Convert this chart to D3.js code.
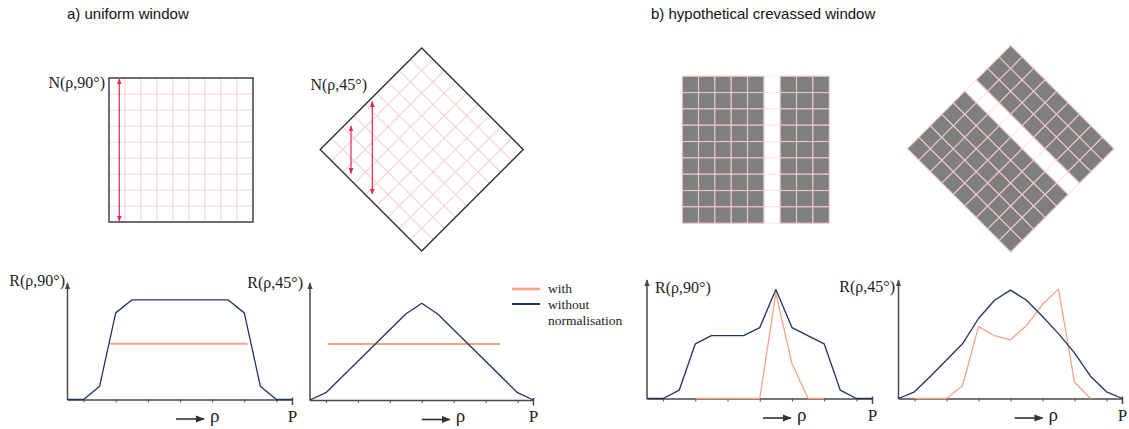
<!DOCTYPE html>
<html>
<head>
<meta charset="utf-8">
<script src="https://cdn.jsdelivr.net/npm/d3@7"></script>
<style>
body { margin: 0; background: #fff; }
</style>
</head>
<body>
<svg id="fig" width="1129" height="429"></svg>
<script>
// ---- data ----
var rhoTicks = [1, 3, 5, 7, 9, 11, 13];
var rhoMax = 14;
var gridCells = 9;
var crevasseMask = [1, 1, 1, 1, 1, 0, 1, 1, 1];   // 0 = open crevasse column

// a) uniform window, R(rho,90)
var u90X = [0, 1, 2, 3, 4, 10, 11, 12, 13, 14];
var u90Without = [0, 0, 0.134, 0.87, 1, 1, 0.87, 0.134, 0, 0];
var u90WithX = [2.65, 11.2];
var u90With = [0.56, 0.56];

// a) uniform window, R(rho,45)
var u45X = [0, 1, 6, 7, 8, 13, 14];
var u45Without = [0, 0.073, 0.86, 0.967, 0.86, 0.073, 0];
var u45WithX = [1.1, 11.9];
var u45With = [0.56, 0.56];

// b) crevassed window, R(rho,90)
var c90X = [0, 1, 2, 3, 4, 6, 7, 8, 9, 11, 12, 13, 14];
var c90Without = [0, 0, 0.082, 0.54, 0.62, 0.62, 0.70, 1.076, 0.70, 0.54, 0.082, 0, 0];
var c90WithX = [3, 7, 8, 9, 10, 11];
var c90With = [0, 0, 1.04, 0.345, 0, 0];

// b) crevassed window, R(rho,45)
var c45X = [0, 1, 2, 3, 4, 5, 6, 7, 8, 9, 10, 11, 12, 13, 14];
var c45Without = [0, 0.066, 0.22, 0.38, 0.54, 0.79, 0.97, 1.07, 0.97, 0.81, 0.64, 0.45, 0.22, 0.066, 0];
var c45WithX = [1, 3, 4, 5, 6, 7, 8, 9, 10, 11, 12];
var c45With = [0, 0, 0.126, 0.71, 0.62, 0.58, 0.72, 0.93, 1.08, 0.16, 0];

var legendItems = ["with", "without"];

// ---- styles ----
var BLUE = "#1f3461", ORANGE = "#f6a383", RED = "#e8255a", PINK = "#fbd3d3";
var GREYCELL = "#7f7f7f", AXIS = "#4a4a4a";
var SERIF = "'Liberation Serif', 'DejaVu Serif', serif";
var SANS = "'Liberation Sans', Arial, sans-serif";

var svg = d3.select("#fig");
var defs = svg.append("defs");

function marker(id, color, size) {
    defs.append("marker")
        .attr("id", id)
        .attr("viewBox", "0 0 10 10")
        .attr("refX", 9).attr("refY", 5)
        .attr("markerUnits", "userSpaceOnUse")
        .attr("markerWidth", size).attr("markerHeight", size)
        .attr("orient", "auto-start-reverse")
        .append("path")
        .attr("d", "M0,1 L10,5 L0,9 z")
        .attr("fill", color);
}
marker("arRed", RED, 6);
marker("arGrey", AXIS, 7);
marker("arDark", "#333", 9);

// titles
svg.append("text").attr("x", 67).attr("y", 19)
    .style("font-family", SANS).style("font-size", "15px").attr("fill", "#111")
    .text("a) uniform window");
svg.append("text").attr("x", 651).attr("y", 19)
    .style("font-family", SANS).style("font-size", "15px").attr("fill", "#111")
    .text("b) hypothetical crevassed window");

// ---- windows ----
function uniformWindow(g, side) {
    var s = d3.scaleLinear().domain([0, gridCells]).range([-side / 2, side / 2]);
    var inner = d3.range(1, gridCells);
    g.selectAll("line.v").data(inner).enter().append("line")
        .attr("x1", s).attr("x2", s).attr("y1", s(0)).attr("y2", s(gridCells))
        .attr("stroke", PINK).attr("stroke-width", 1.2);
    g.selectAll("line.h").data(inner).enter().append("line")
        .attr("y1", s).attr("y2", s).attr("x1", s(0)).attr("x2", s(gridCells))
        .attr("stroke", PINK).attr("stroke-width", 1.2);
    g.append("rect").attr("x", s(0)).attr("y", s(0))
        .attr("width", side).attr("height", side)
        .attr("fill", "none").attr("stroke", "#333").attr("stroke-width", 1.4);
}

function crevassedWindow(g, side) {
    var s = d3.scaleLinear().domain([0, gridCells]).range([-side / 2, side / 2]);
    var cells = [];
    crevasseMask.forEach(function (m, c) {
        d3.range(gridCells).forEach(function (r) { cells.push({c: c, r: r, m: m}); });
    });
    var cw = side / gridCells;
    g.selectAll("rect.gap").data(cells.filter(function (d) { return !d.m; })).enter().append("rect")
        .attr("x", function (d) { return s(d.c); }).attr("y", function (d) { return s(d.r); })
        .attr("width", cw).attr("height", cw)
        .attr("fill", "#fff").attr("stroke", "#fde6e6").attr("stroke-width", 1);
    g.selectAll("rect.cell").data(cells.filter(function (d) { return d.m; })).enter().append("rect")
        .attr("x", function (d) { return s(d.c); }).attr("y", function (d) { return s(d.r); })
        .attr("width", cw).attr("height", cw)
        .attr("fill", GREYCELL).attr("stroke", "#f2c6c6").attr("stroke-width", 1.1);
}

function dblArrow(x, y0, y1) {
    svg.append("line").attr("x1", x).attr("x2", x).attr("y1", y0).attr("y2", y1)
        .attr("stroke", RED).attr("stroke-width", 1.2)
        .attr("marker-start", "url(#arRed)").attr("marker-end", "url(#arRed)");
}

function serifLabel(x, y, txt, anchor, size) {
    return svg.append("text").attr("x", x).attr("y", y)
        .attr("text-anchor", anchor || "start")
        .style("font-family", SERIF).style("font-size", (size || 16) + "px")
        .attr("fill", "#222").text(txt);
}

// a) square
uniformWindow(svg.append("g").attr("transform", "translate(181,150)"), 144);
dblArrow(119.3, 79, 221);
serifLabel(105, 88, "N(\u03c1,90\u00b0)", "end");

// a) diamond
uniformWindow(svg.append("g").attr("transform", "translate(421.7,149.5) rotate(45)"), 143.5);
dblArrow(351, 126, 173.5);
dblArrow(372.3, 101.5, 194);
serifLabel(367, 90, "N(\u03c1,45\u00b0)", "end");

// b) square and diamond
crevassedWindow(svg.append("g").attr("transform", "translate(755.7,149.7)"), 147);
crevassedWindow(svg.append("g").attr("transform", "translate(1010.7,148.7) rotate(-45)"), 146);

// ---- profile charts ----
function profile(p) {
    var x = d3.scaleLinear().domain([0, rhoMax]).range([p.x0, p.x1]);
    var y = d3.scaleLinear().domain([0, 1.17]).range([p.base, p.top]);
    var line = d3.line().x(function (d) { return x(d[0]); }).y(function (d) { return y(d[1]); });
    var g = svg.append("g");

    var ax = g.append("g").attr("transform", "translate(0," + p.base + ")")
        .call(d3.axisBottom(x).tickValues(rhoTicks).tickSize(3).tickSizeOuter(0).tickFormat(""));
    ax.select(".domain").attr("stroke", AXIS).attr("stroke-width", 1.6);
    ax.selectAll(".tick line").attr("stroke", AXIS).attr("stroke-width", 1);
    g.append("line").attr("x1", x(rhoMax)).attr("x2", x(rhoMax))
        .attr("y1", p.base - 2).attr("y2", p.base + 5.5)
        .attr("stroke", AXIS).attr("stroke-width", 1.5);
    g.append("line").attr("x1", x(0)).attr("x2", x(0))
        .attr("y1", p.base + 0.8).attr("y2", p.top)
        .attr("stroke", AXIS).attr("stroke-width", 1.5)
        .attr("marker-end", "url(#arGrey)");

    g.append("path").datum(d3.zip(p.withX, p.with))
        .attr("d", line).attr("fill", "none")
        .attr("stroke", ORANGE).attr("stroke-width", p.flat ? 2 : 1.3)
        .attr("stroke-linejoin", "round");
    g.append("path").datum(d3.zip(p.withoutX, p.without))
        .attr("d", line).attr("fill", "none")
        .attr("stroke", BLUE).attr("stroke-width", 1.3)
        .attr("stroke-linejoin", "round");

    serifLabel(x(rhoMax), p.base + 22, "P", "middle", 17);
    g.append("line").attr("x1", x(p.rhoAt)).attr("x2", x(p.rhoAt) + 28)
        .attr("y1", p.base + 19.5).attr("y2", p.base + 19.5)
        .attr("stroke", "#333").attr("stroke-width", 1.6)
        .attr("marker-end", "url(#arDark)");
    serifLabel(x(p.rhoAt) + 34, p.base + 22, "\u03c1", "start", 19);
    serifLabel(p.lx, p.ly, p.label, p.lanchor);
}

profile({x0: 67.5, x1: 292.5, base: 399.5, top: 283, withoutX: u90X, without: u90Without,
    withX: u90WithX, with: u90With, flat: true, rhoAt: 6.75,
    label: "R(\u03c1,90\u00b0)", lx: 65, ly: 286, lanchor: "end"});
profile({x0: 310, x1: 533.5, base: 400, top: 283, withoutX: u45X, without: u45Without,
    withX: u45WithX, with: u45With, flat: true, rhoAt: 7,
    label: "R(\u03c1,45\u00b0)", lx: 303, ly: 288, lanchor: "end"});
profile({x0: 647, x1: 872.5, base: 398.5, top: 280, withoutX: c90X, without: c90Without,
    withX: c90WithX, with: c90With, flat: false, rhoAt: 7.2,
    label: "R(\u03c1,90\u00b0)", lx: 655, ly: 293, lanchor: "start"});
profile({x0: 898.5, x1: 1122.5, base: 398.5, top: 280, withoutX: c45X, without: c45Without,
    withX: c45WithX, with: c45With, flat: false, rhoAt: 7.25,
    label: "R(\u03c1,45\u00b0)", lx: 895, ly: 292, lanchor: "end"});

// ---- legend ----
var leg = svg.append("g").attr("transform", "translate(512,289)");
leg.selectAll("line").data(legendItems).enter().append("line")
    .attr("x1", 0).attr("x2", 28)
    .attr("y1", function (d, i) { return i * 15; }).attr("y2", function (d, i) { return i * 15; })
    .attr("stroke", function (d, i) { return i ? BLUE : ORANGE; })
    .attr("stroke-width", function (d, i) { return i ? 2 : 2.6; });
leg.selectAll("text").data(legendItems).enter().append("text")
    .attr("x", 36).attr("y", function (d, i) { return i * 16 + 4; })
    .style("font-family", SERIF).style("font-size", "13.5px").attr("fill", "#222")
    .text(function (d) { return d; });
leg.append("text").attr("x", 36).attr("y", 36)
    .style("font-family", SERIF).style("font-size", "13.5px").attr("fill", "#222")
    .text("normalisation");
</script>
</body>
</html>
